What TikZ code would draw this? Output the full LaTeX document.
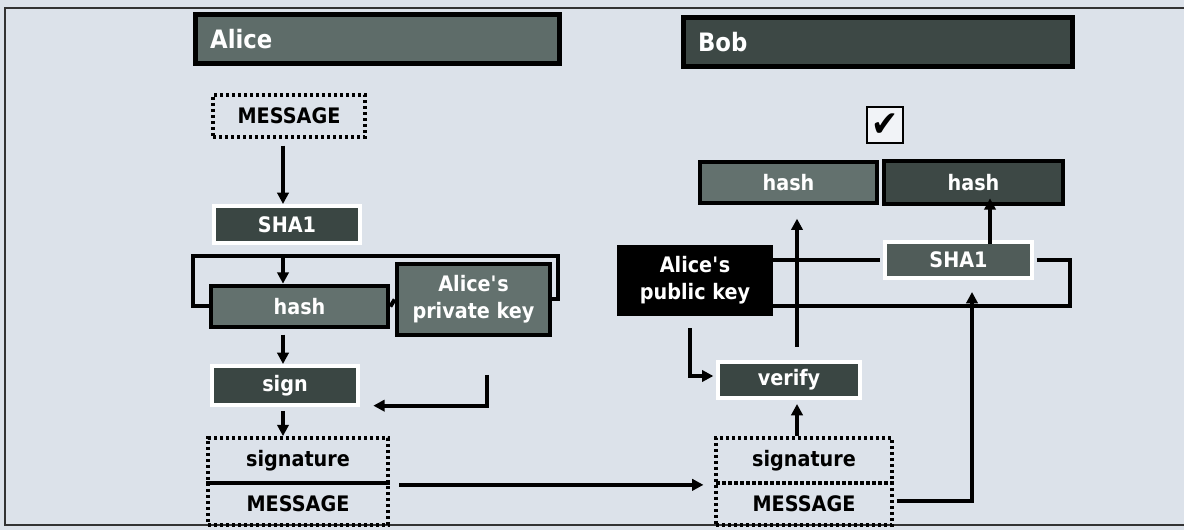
\documentclass[tikz,border=0pt]{standalone}
\usepackage{fontspec}
\setmainfont{DejaVu Sans}[FakeStretch=0.9]
\usetikzlibrary{arrows.meta}
\definecolor{paperBg}{HTML}{DCE2EA}
\definecolor{hdrMid}{HTML}{5E6C69}
\definecolor{hdrDark}{HTML}{3D4845}
\definecolor{boxDark}{HTML}{3A4643}
\definecolor{boxMid}{HTML}{63716E}
\definecolor{boxSha}{HTML}{505C59}

\begin{document}
\begin{tikzpicture}[x=0.75pt, y=-0.75pt,
  box/.style={inner sep=0pt, align=center, text=white,
    font=\fontsize{16}{20}\selectfont\bfseries},
  hdrbox/.style={draw=black, line width=3.5pt, inner xsep=11pt, inner ysep=0pt,
    align=left, text=white, minimum height=37pt,
    font=\fontsize{19}{20}\selectfont\bfseries},
  darkbox/.style={box, fill=boxDark, draw=white, line width=3pt},
  midbox/.style={box, fill=boxMid, draw=black, line width=3.5pt},
  dotbox/.style={box, text=black, draw=black, line width=2.8pt,
    dash pattern=on 2.4pt off 2.1pt},
  ln/.style={line width=3pt, black},
  arr/.style={ln, -{Triangle[length=8.5pt,width=8.5pt]}}
]

\useasboundingbox (0,0) rectangle (1184,530);
\fill[paperBg] (0,0) rectangle (1184,530);
\draw[line width=1.8pt, black!80] (1184,8) -- (5,8) -- (5,525) -- (1184,525);

% --- HEADERS ---
\node[hdrbox, fill=hdrMid, text width=251pt] (alice) at (377.5,39) {Alice};
\node[hdrbox, fill=hdrDark, text width=270pt] (bob) at (878,42) {Bob};

% --- ALICE: SIGNING ---
\coordinate (colA) at (283,0);
\node[dotbox, minimum width=114pt, minimum height=31.5pt] (msgA) at (289,116) {MESSAGE};
\node[darkbox, minimum width=109.5pt, minimum height=27.75pt] (shaA) at (287,224.5) {SHA1};
\node[midbox, minimum width=132.75pt, minimum height=30.75pt] (hashA) at (299.5,306.5) {hash};
\node[midbox, minimum width=114.75pt, minimum height=53.25pt] (privA) at (473.5,299.5) {Alice\textquotesingle s\\private key};
\node[darkbox, minimum width=109.5pt, minimum height=29.25pt] (signA) at (285,385.5) {sign};
\node[dotbox, minimum width=135pt, minimum height=33.75pt] (sigA) at (298,460.5) {signature};
\node[dotbox, minimum width=135pt, minimum height=31.5pt] (msgA2) at (298,504) {MESSAGE};

\coordinate (brkL) at (193,256);
\coordinate (brkR) at (558,256);
\coordinate (keyIn) at (487,375);

\draw[arr] (msgA.south -| colA) ++(0,-5pt) -- (shaA.north -| colA);
\draw[ln] (hashA.west) -| (brkL) -- (brkR) |- (privA.east);
\draw[ln] (hashA.east) -- (privA.west);
\draw[arr] (brkL -| colA) -- (hashA.north -| colA);
\draw[arr] ([yshift=-4pt]hashA.south -| colA) -- (signA.north -| colA);
\draw[arr] (keyIn) |- ([xshift=10pt,yshift=1pt]signA.south east);
\draw[arr] ([yshift=-3pt]signA.south -| colA) -- (sigA.north -| colA);

% --- TRANSFER ---
\node[dotbox, minimum width=132pt, minimum height=33.75pt] (sigB) at (804,460.5) {signature};
\node[dotbox, minimum width=132pt, minimum height=31.5pt] (msgB2) at (804,504) {MESSAGE};
\draw[arr] ([xshift=7pt]sigA.south east) -- ([xshift=-8pt]sigB.south west);

% --- BOB: VERIFYING ---
\coordinate (colB) at (797,0);
\coordinate (colP) at (690,0);
\coordinate (colS) at (990,0);
\coordinate (colM) at (972,0);
\node[box, fill=black, minimum width=117pt, minimum height=53.25pt] (pubB) at (695,280.5) {Alice\textquotesingle s\\public key};
\node[midbox, minimum width=132.75pt, minimum height=30.75pt] (hashB1) at (788.5,182.5) {hash};
\node[midbox, fill=hdrDark, minimum width=134.25pt, minimum height=32.25pt] (hashB2) at (973.5,182.5) {hash};
\node[draw=black, line width=2.2pt, fill=white!60!paperBg, minimum size=27pt, inner sep=0pt,
  font=\fontsize{27}{27}\selectfont] (check) at (885,125) {✔};
\node[darkbox, fill=boxSha, minimum width=110.25pt, minimum height=27pt] (shaB) at (958.5,260) {SHA1};
\node[darkbox, minimum width=106.5pt, minimum height=27pt] (verifyB) at (789,380) {verify};

\coordinate (loopB) at (1070,306);

\draw[arr] (sigB.north -| colB) -- ([yshift=-3pt]verifyB.south -| colB);
\draw[arr, shorten <=10pt, shorten >=10pt] (verifyB.north -| colB) -- (hashB1.south -| colB);
\draw[arr] ([yshift=-9pt]pubB.south -| colP) |- ([xshift=-2pt,yshift=3pt]verifyB.west);
\draw[ln] (pubB.east |- shaB.west) -- ([xshift=-2pt]shaB.west);
\draw[ln] ([xshift=2pt]shaB.east) -| (loopB) -- (loopB -| pubB.east);
\draw[arr] ([yshift=-3pt]shaB.north -| colS) -- ([yshift=6pt]hashB2.south -| colS);
\draw[arr] ([xshift=2pt,yshift=2pt]msgB2.east) -| ([yshift=-9pt]shaB.south -| colM);

\end{tikzpicture}
\end{document}
